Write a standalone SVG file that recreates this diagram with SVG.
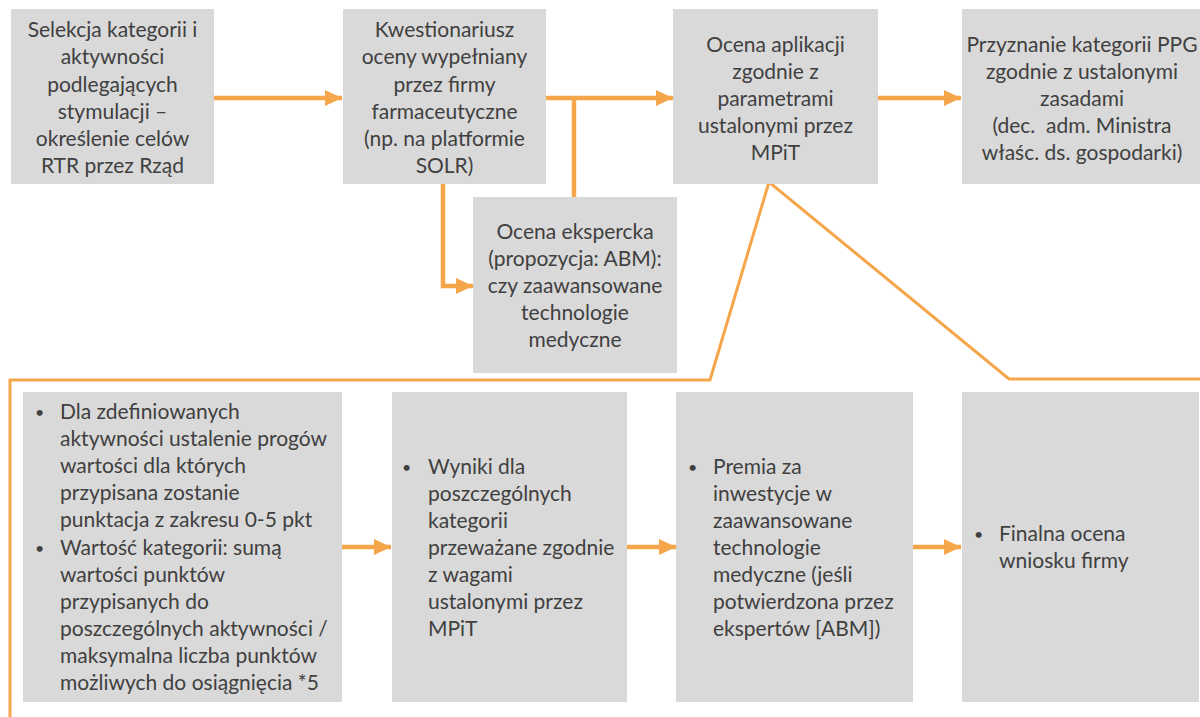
<svg xmlns="http://www.w3.org/2000/svg" width="1200" height="717" viewBox="0 0 1200 717">
  <defs>
    <style>
      .box { fill: #d9d9d9; }
      .t { font-family: Lato, "Liberation Sans", sans-serif; font-size: 21px; fill: #404040; }
      .c { text-anchor: middle; }
      .b { font-size: 16px; }
      .flow { stroke: #f5a54a; stroke-width: 4.5; fill: none; }
      .bracket { stroke: #f5a54a; stroke-width: 3; fill: none; stroke-linejoin: miter; }
    </style>
    <marker id="arrow" markerUnits="userSpaceOnUse" markerWidth="18" markerHeight="18" refX="17" refY="9" orient="auto">
      <path d="M0,1 L17,9 L0,17 Z" fill="#f5a54a"/>
    </marker>
  </defs>

  <rect width="1200" height="717" fill="#ffffff"/>

  <!-- connectors -->
  <g id="connectors">
    <line class="flow" x1="214" y1="98" x2="342" y2="98" marker-end="url(#arrow)"/>
    <line class="flow" x1="546" y1="98" x2="673" y2="98" marker-end="url(#arrow)"/>
    <line class="flow" x1="574" y1="96" x2="574" y2="197"/>
    <polyline class="flow" points="443,184 443,286 473,286" marker-end="url(#arrow)"/>
    <line class="flow" x1="878" y1="98" x2="961" y2="98" marker-end="url(#arrow)"/>
    <line class="flow" x1="342" y1="547" x2="391" y2="547" marker-end="url(#arrow)"/>
    <line class="flow" x1="627" y1="547" x2="676" y2="547" marker-end="url(#arrow)"/>
    <line class="flow" x1="913" y1="547" x2="961" y2="547" marker-end="url(#arrow)"/>
    <polyline class="bracket" points="10,717 10,380 710,380 769,182 1009,379 1200,379"/>
  </g>

  <!-- top row -->
  <g id="node-selekcja">
    <rect class="box" x="11" y="9" width="203" height="175"/>
    <text class="t c" x="112.5" y="37">Selekcja kategorii i</text>
    <text class="t c" x="112.5" y="64">aktywności</text>
    <text class="t c" x="112.5" y="92">podlegających</text>
    <text class="t c" x="112.5" y="119">stymulacji –</text>
    <text class="t c" x="112.5" y="146">określenie celów</text>
    <text class="t c" x="112.5" y="173">RTR przez Rząd</text>
  </g>

  <g id="node-kwestionariusz">
    <rect class="box" x="343" y="9" width="203" height="175"/>
    <text class="t c" x="444.5" y="37">Kwestionariusz</text>
    <text class="t c" x="444.5" y="64">oceny wypełniany</text>
    <text class="t c" x="444.5" y="92">przez firmy</text>
    <text class="t c" x="444.5" y="119">farmaceutyczne</text>
    <text class="t c" x="444.5" y="146">(np. na platformie</text>
    <text class="t c" x="444.5" y="173">SOLR)</text>
  </g>

  <g id="node-ocena-aplikacji">
    <rect class="box" x="673" y="9" width="205" height="175"/>
    <text class="t c" x="775.5" y="52">Ocena aplikacji</text>
    <text class="t c" x="775.5" y="79">zgodnie z</text>
    <text class="t c" x="775.5" y="106">parametrami</text>
    <text class="t c" x="775.5" y="133">ustalonymi przez</text>
    <text class="t c" x="775.5" y="160">MPiT</text>
  </g>

  <g id="node-przyznanie">
    <rect class="box" x="962" y="9" width="238" height="175"/>
    <text class="t c" x="1082" y="52">Przyznanie kategorii PPG</text>
    <text class="t c" x="1082" y="79">zgodnie z ustalonymi</text>
    <text class="t c" x="1082" y="106">zasadami</text>
    <text class="t c" x="1082" y="133" xml:space="preserve">(dec.  adm. Ministra</text>
    <text class="t c" x="1082" y="160">właśc. ds. gospodarki)</text>
  </g>

  <g id="node-ocena-ekspercka">
    <rect class="box" x="473" y="197" width="204" height="176"/>
    <text class="t c" x="575" y="239">Ocena ekspercka</text>
    <text class="t c" x="575" y="266">(propozycja: ABM):</text>
    <text class="t c" x="575" y="293">czy zaawansowane</text>
    <text class="t c" x="575" y="320">technologie</text>
    <text class="t c" x="575" y="347">medyczne</text>
  </g>

  <!-- bottom row -->
  <g id="node-progi">
    <rect class="box" x="23" y="392" width="319" height="310"/>
    <text class="t b" x="35" y="418">•</text>
    <text class="t" x="60" y="419">Dla zdefiniowanych</text>
    <text class="t" x="60" y="446">aktywności ustalenie progów</text>
    <text class="t" x="60" y="473">wartości dla których</text>
    <text class="t" x="60" y="500">przypisana zostanie</text>
    <text class="t" x="60" y="527">punktacja z zakresu 0-5 pkt</text>
    <text class="t b" x="35" y="554">•</text>
    <text class="t" x="60" y="555">Wartość kategorii: sumą</text>
    <text class="t" x="60" y="582">wartości punktów</text>
    <text class="t" x="60" y="609">przypisanych do</text>
    <text class="t" x="60" y="636">poszczególnych aktywności /</text>
    <text class="t" x="60" y="663">maksymalna liczba punktów</text>
    <text class="t" x="60" y="690">możliwych do osiągnięcia *5</text>
  </g>

  <g id="node-wyniki">
    <rect class="box" x="392" y="392" width="235" height="310"/>
    <text class="t b" x="402" y="473">•</text>
    <text class="t" x="428" y="474">Wyniki dla</text>
    <text class="t" x="428" y="501">poszczególnych</text>
    <text class="t" x="428" y="528">kategorii</text>
    <text class="t" x="428" y="555">przeważane zgodnie</text>
    <text class="t" x="428" y="582">z wagami</text>
    <text class="t" x="428" y="609">ustalonymi przez</text>
    <text class="t" x="428" y="636">MPiT</text>
  </g>

  <g id="node-premia">
    <rect class="box" x="676" y="392" width="237" height="310"/>
    <text class="t b" x="688" y="473">•</text>
    <text class="t" x="713" y="474">Premia za</text>
    <text class="t" x="713" y="501">inwestycje w</text>
    <text class="t" x="713" y="528">zaawansowane</text>
    <text class="t" x="713" y="555">technologie</text>
    <text class="t" x="713" y="582">medyczne (jeśli</text>
    <text class="t" x="713" y="609">potwierdzona przez</text>
    <text class="t" x="713" y="636">ekspertów [ABM])</text>
  </g>

  <g id="node-finalna">
    <rect class="box" x="962" y="392" width="237" height="310"/>
    <text class="t b" x="974" y="540">•</text>
    <text class="t" x="999" y="541">Finalna ocena</text>
    <text class="t" x="999" y="568">wniosku firmy</text>
  </g>
</svg>
